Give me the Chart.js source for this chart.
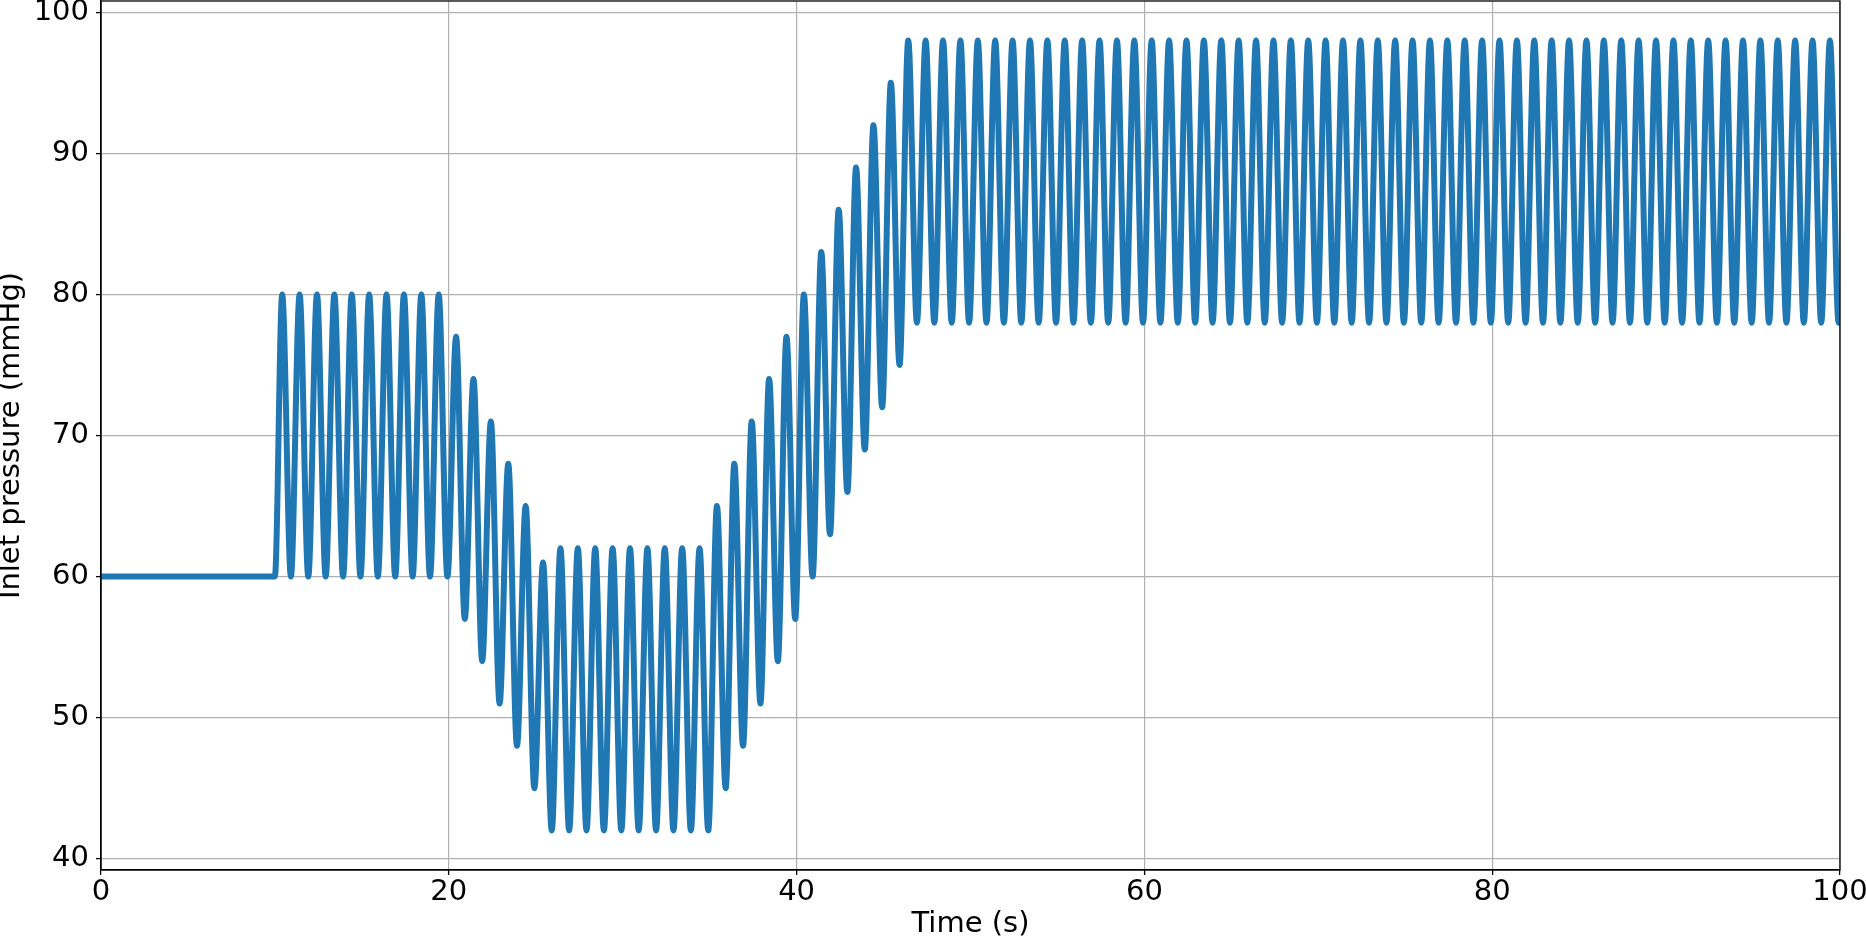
<!DOCTYPE html>
<html>
<head>
<meta charset="utf-8">
<title>Inlet pressure</title>
<script src="https://cdn.jsdelivr.net/npm/chart.js@4.4.0/dist/chart.umd.min.js"></script>
<style>
  html, body { margin: 0; padding: 0; background: #fff; }
  canvas { display: block; }
</style>
</head>
<body>
<canvas id="chart" width="1866" height="943"></canvas>
<script>
// flat line before the pulsing starts
const restTimes = [0, 10]
const restValues = [60, 60]

// one beat per second from t = 10 s: a peak and a trough each beat
const firstBeat = 10
const peakPhase = 0.42
const troughPhase = 0.92
const peakValues = [
  80, 80, 80, 80, 80, 80, 80, 80, 80, 80,
  77, 74, 71, 68, 65, 61,
  62, 62, 62, 62, 62, 62, 62, 62, 62,
  65, 68, 71, 74, 77, 80, 83, 86, 89, 92, 95,
  98, 98, 98, 98, 98, 98, 98, 98, 98, 98,
  98, 98, 98, 98, 98, 98, 98, 98, 98, 98,
  98, 98, 98, 98, 98, 98, 98, 98, 98, 98,
  98, 98, 98, 98, 98, 98, 98, 98, 98, 98,
  98, 98, 98, 98, 98, 98, 98, 98, 98, 98,
  98, 98, 98, 98
]
const troughValues = [
  60, 60, 60, 60, 60, 60, 60, 60, 60, 60,
  57, 54, 51, 48, 45, 42,
  42, 42, 42, 42, 42, 42, 42, 42, 42,
  45, 48, 51, 54, 57, 60, 63, 66, 69, 72, 75,
  78, 78, 78, 78, 78, 78, 78, 78, 78, 78,
  78, 78, 78, 78, 78, 78, 78, 78, 78, 78,
  78, 78, 78, 78, 78, 78, 78, 78, 78, 78,
  78, 78, 78, 78, 78, 78, 78, 78, 78, 78,
  78, 78, 78, 78, 78, 78, 78, 78, 78, 78,
  78, 78, 78, 78
]
const endTime = 100
const endValue = 78

const xTicks = [0, 20, 40, 60, 80, 100]
const yTicks = [40, 50, 60, 70, 80, 90, 100]

// build the x/y table for the line
const points = restTimes.map((t, i) => ({x: t, y: restValues[i]}))
peakValues.forEach((p, i) => {
  const beat = firstBeat + i
  points.push({x: beat + peakPhase, y: p})
  points.push({x: beat + troughPhase, y: troughValues[i]})
})
points.push({x: endTime, y: endValue})

const FONT = "'DejaVu Sans', sans-serif"

// box round the plot area, like matplotlib spines
const frame = {
  id: 'frame',
  afterDatasetsDraw(chart) {
    const {ctx, chartArea: a} = chart
    ctx.save()
    ctx.strokeStyle = '#000'
    ctx.lineWidth = 1.3
    ctx.strokeRect(a.left, a.top, a.right - a.left, a.bottom - a.top)
    ctx.restore()
  }
}

new Chart(document.getElementById('chart'), {
  type: 'line',
  data: {
    datasets: [{
      data: points,
      borderColor: '#1f77b4',
      borderWidth: 6,
      pointRadius: 0,
      fill: false,
      cubicInterpolationMode: 'monotone',
      clip: 0
    }]
  },
  options: {
    responsive: false,
    devicePixelRatio: 1,
    animation: false,
    layout: {padding: {left: 0, right: 26, top: 1, bottom: 0}},
    plugins: {legend: {display: false}, tooltip: {enabled: false}},
    scales: {
      x: {
        type: 'linear',
        min: 0,
        max: 100,
        afterBuildTicks: s => { s.ticks = xTicks.map(v => ({value: v})) },
        afterFit: s => { s.height = 73; s.paddingLeft = 0; s.paddingRight = 0 },
        grid: {color: '#b0b0b0', lineWidth: 1.2, tickColor: '#000', tickLength: 5, tickWidth: 1.3},
        border: {color: '#000', width: 1.3},
        ticks: {color: '#000', padding: 0, maxRotation: 0, font: {family: FONT, size: 29}},
        title: {display: true, text: 'Time (s)', color: '#000', padding: {top: 0, bottom: 4},
                font: {family: FONT, size: 29, lineHeight: 1}}
      },
      y: {
        type: 'linear',
        min: 39.2,
        max: 100.8,
        afterBuildTicks: s => { s.ticks = yTicks.map(v => ({value: v})) },
        afterFit: s => { s.width = 101; s.paddingTop = 0; s.paddingBottom = 0 },
        grid: {color: '#b0b0b0', lineWidth: 1.2, tickColor: '#000', tickLength: 5, tickWidth: 1.3},
        border: {color: '#000', width: 1.3},
        ticks: {color: '#000', padding: 7, font: {family: FONT, size: 29}},
        title: {display: true, text: 'Inlet pressure (mmHg)', color: '#000', padding: 0,
                font: {family: FONT, size: 29, lineHeight: 0.8}}
      }
    }
  },
  plugins: [frame]
})
</script>
</body>
</html>
